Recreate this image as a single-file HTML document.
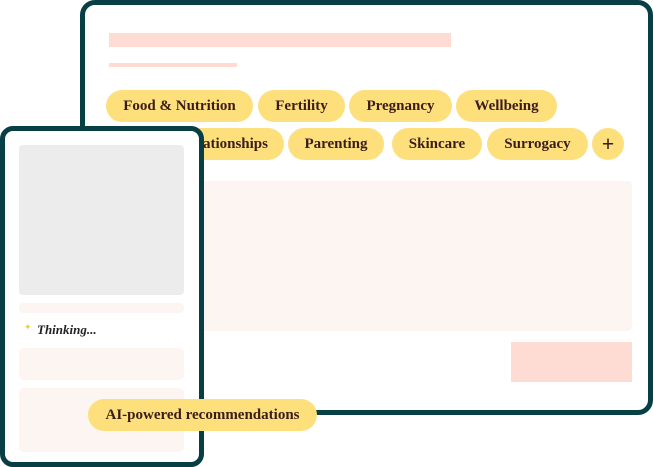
<!DOCTYPE html>
<html><head><style>
body{margin:0;width:653px;height:467px;background:#fff;position:relative;overflow:hidden;font-family:"Liberation Serif",serif}
.a{position:absolute;box-sizing:border-box}
.pill{position:absolute;box-sizing:border-box;background:#fde07c;border-radius:17px;color:#3b1c1c;font-weight:bold;font-size:15px;text-align:center;line-height:32px;height:32px;white-space:nowrap}
</style></head><body>
<div class="a" style="left:80px;top:0;width:573px;height:415px;border:5px solid #073f45;border-radius:15px;background:#fff"></div>
<div class="a" style="left:109px;top:33px;width:342px;height:14px;background:#ffdcd3"></div>
<div class="a" style="left:109px;top:63px;width:128px;height:4px;background:#ffdcd3"></div>
<div class="pill" style="left:106px;top:90px;width:147px">Food &amp; Nutrition</div>
<div class="pill" style="left:258px;top:90px;width:87px">Fertility</div>
<div class="pill" style="left:349px;top:90px;width:103px">Pregnancy</div>
<div class="pill" style="left:456px;top:90px;width:101px">Wellbeing</div>
<div class="pill" style="left:170px;top:128px;width:114px;text-align:right;padding-right:16px">Relationships</div>
<div class="pill" style="left:288px;top:128px;width:96px">Parenting</div>
<div class="pill" style="left:392px;top:128px;width:90px">Skincare</div>
<div class="pill" style="left:487px;top:128px;width:101px">Surrogacy</div>
<div class="pill" style="left:592px;top:128px;width:32px;font-size:22px">+</div>
<div class="a" style="left:190px;top:181px;width:442px;height:150px;background:#fdf5f1;border-radius:4px"></div>
<div class="a" style="left:511px;top:342px;width:121px;height:40px;background:#ffdcd3"></div>
<div class="a" style="left:0;top:126px;width:204px;height:341px;border:5px solid #073f45;border-radius:13px;background:#fff"></div>
<div class="a" style="left:19px;top:145px;width:165px;height:150px;background:#ececec;border-radius:4px"></div>
<div class="a" style="left:19px;top:303px;width:165px;height:10px;background:#fdf5f1;border-radius:4px"></div>
<div class="a" style="left:24px;top:322px;font-size:9px;color:#f5c842">✦</div>
<div class="a" style="left:37px;top:322px;font-size:13px;font-style:italic;font-weight:bold;color:#222">Thinking...</div>
<div class="a" style="left:19px;top:348px;width:165px;height:32px;background:#fdf5f1;border-radius:4px"></div>
<div class="a" style="left:19px;top:388px;width:165px;height:64px;background:#fdf5f1;border-radius:4px"></div>
<div class="pill" style="left:88px;top:399px;width:229px">AI-powered recommendations</div>
</body></html>
